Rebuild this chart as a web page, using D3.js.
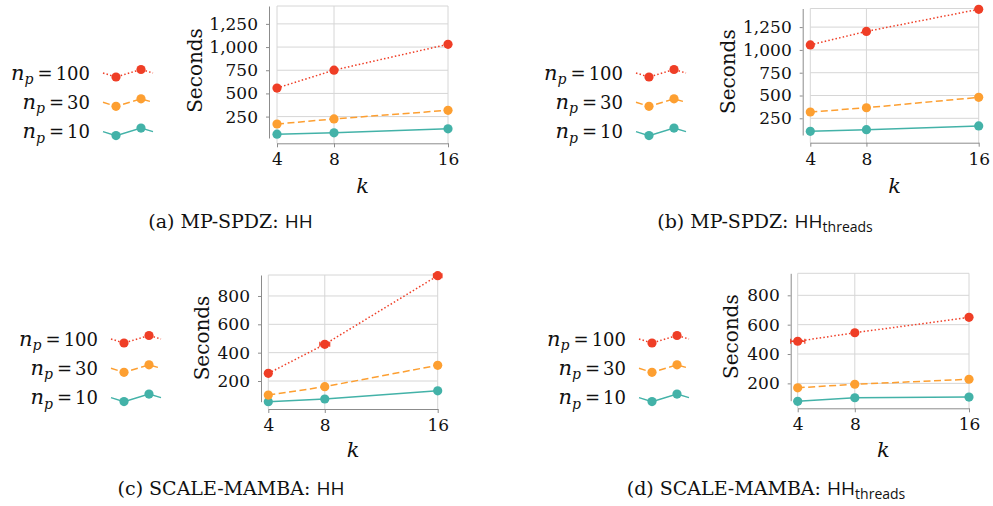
<!DOCTYPE html>
<html>
<head>
<meta charset="utf-8">
<script src="https://cdn.jsdelivr.net/npm/d3@7"></script>
<style>
  body { margin: 0; background: #fff; }
  svg { display: block; }
  text { font-family: "DejaVu Serif", serif; fill: #111; white-space: pre; }
  .sans { font-family: "Open Sans", "DejaVu Sans", sans-serif; }
</style>
</head>
<body>
<div id="chart"></div>
<script>
// k on the x axis
const kValues = [4, 8, 16];
const npLabels = ["100", "30", "10"];

// (a) MP-SPDZ: HH
const mpHH100 = [558, 751, 1030];
const mpHH30 = [170, 225, 318];
const mpHH10 = [60, 75, 118];
// (b) MP-SPDZ: HH_threads
const mpThr100 = [1055, 1203, 1445];
const mpThr30 = [319, 366, 480];
const mpThr10 = [107, 125, 166];
// (c) SCALE-MAMBA: HH
const smHH100 = [254, 459, 943];
const smHH30 = [101, 160, 311];
const smHH10 = [54, 73, 131];
// (d) SCALE-MAMBA: HH_threads
const smThr100 = [487, 545, 650];
const smThr30 = [170, 194, 228];
const smThr10 = [78, 102, 107];

// small horizontal whiskers on the n_p=100 series (k units)
const smHH100Err = [0, 0.35, 0.3];
const smThr100Err = [0.5, 0, 0];

const mpTicks = [250, 500, 750, 1000, 1250];
const smTicks = [200, 400, 600, 800];

const colors = ["#ef3e26", "#fd9f31", "#43b2a8"];
const dashes = ["1.5 2.2", "7 3.5", null];

const width = 993, height = 506;

const svg = d3.select("#chart")
  .append("svg")
  .attr("width", width)
  .attr("height", height)
  .attr("viewBox", [0, 0, width, height]);

const panels = [
  {xr: [277, 448], yr: [138, 6], yDom: [19, 1443], axisX: 269, xAxisY: 143.3,
   ticks: mpTicks, series: [mpHH100, mpHH30, mpHH10], err: null,
   labelX: 201.7, labelY: 70.5, kY: 193, legX: 90, legY: 73,
   cap: {x: 230.5, y: 228, pre: "(a) MP-SPDZ: ", sub: false}},
  {xr: [810.3, 978.7], yr: [135, 8.5], yDom: [67, 1454], axisX: 802.7, xAxisY: 142.7,
   ticks: mpTicks, series: [mpThr100, mpThr30, mpThr10], err: null,
   labelX: 735, labelY: 71.7, kY: 193.3, legX: 623, legY: 73,
   cap: {x: 765, y: 228, pre: "(b) MP-SPDZ: ", sub: true}},
  {xr: [268.3, 437.7], yr: [401.7, 275], yDom: [54, 948], axisX: 261, xAxisY: 409,
   ticks: smTicks, series: [smHH100, smHH30, smHH10], err: smHH100Err,
   labelX: 209, labelY: 338, kY: 456.7, legX: 98, legY: 339,
   cap: {x: 231, y: 495, pre: "(c) SCALE-MAMBA: ", sub: false}},
  {xr: [797.7, 969], yr: [400.7, 273.3], yDom: [82, 950], axisX: 790.7, xAxisY: 408.3,
   ticks: smTicks, series: [smThr100, smThr30, smThr10], err: smThr100Err,
   labelX: 738, labelY: 336.7, kY: 456.7, legX: 626, legY: 339,
   cap: {x: 766, y: 495, pre: "(d) SCALE-MAMBA: ", sub: true}}
];

panels.forEach(p => {
  const g = svg.append("g");
  const x = d3.scaleLinear().domain([4, 16]).range(p.xr);
  const y = d3.scaleLinear().domain(p.yDom).range(p.yr);
  const top = p.yr[1];

  // grid
  g.selectAll("line.hgrid")
    .data(p.ticks)
    .join("line")
    .attr("x1", p.xr[0]).attr("x2", p.xr[1])
    .attr("y1", d => y(d)).attr("y2", d => y(d))
    .attr("stroke", "#d6d6d6").attr("stroke-width", 1);
  g.append("line")
    .attr("x1", p.xr[0]).attr("x2", p.xr[1])
    .attr("y1", top).attr("y2", top)
    .attr("stroke", "#d6d6d6");
  g.selectAll("line.vgrid")
    .data(kValues)
    .join("line")
    .attr("x1", d => x(d)).attr("x2", d => x(d))
    .attr("y1", top).attr("y2", p.xAxisY)
    .attr("stroke", "#d6d6d6");

  // axes
  const yAxis = g.append("g")
    .attr("transform", `translate(${p.axisX},0)`)
    .call(d3.axisLeft(y).tickValues(p.ticks).tickFormat(d3.format(","))
      .tickSize(3).tickSizeOuter(0).tickPadding(8));
  const xAxis = g.append("g")
    .attr("transform", `translate(0,${p.xAxisY})`)
    .call(d3.axisBottom(x).tickValues(kValues).tickSize(4).tickSizeOuter(0).tickPadding(6));
  [yAxis, xAxis].forEach(a => {
    a.select(".domain").attr("stroke", "#8c8c8c");
    a.selectAll(".tick line").attr("stroke", "#8c8c8c");
    a.selectAll(".tick text")
      .style("font-family", "DejaVu Serif, serif")
      .style("font-size", "17px")
      .attr("fill", "#111");
  });

  // axis titles
  g.append("text")
    .attr("transform", `translate(${p.labelX},${p.labelY}) rotate(-90)`)
    .attr("text-anchor", "middle")
    .style("font-size", "20px")
    .text("Seconds");
  g.append("text")
    .attr("x", (p.xr[0] + p.xr[1]) / 2).attr("y", p.kY)
    .attr("text-anchor", "middle")
    .style("font-size", "21px").style("font-style", "italic")
    .text("k");

  // series (drawn 10, 30, 100 so red is on top)
  const line = d3.line().x((d, i) => x(kValues[i])).y(d => y(d));
  [2, 1, 0].forEach(si => {
    const vals = p.series[si];
    g.append("path")
      .datum(vals)
      .attr("d", line)
      .attr("fill", "none")
      .attr("stroke", colors[si])
      .attr("stroke-width", 1.5)
      .attr("stroke-dasharray", dashes[si]);
    if (si === 0 && p.err) {
      const eb = vals.map((v, i) => ({k: kValues[i], v: v, e: p.err[i]})).filter(d => d.e > 0);
      g.selectAll("line.err")
        .data(eb)
        .join("line")
        .attr("x1", d => Math.max(x(d.k - d.e), p.axisX)).attr("x2", d => x(d.k + d.e))
        .attr("y1", d => y(d.v)).attr("y2", d => y(d.v))
        .attr("stroke", colors[0]).attr("stroke-width", 1.6);
      g.selectAll("line.cap")
        .data(eb.flatMap(d => [{k: d.k + d.e, v: d.v}, {k: Math.max(d.k - d.e, x.invert(p.axisX)), v: d.v}]))
        .join("line")
        .attr("x1", d => x(d.k)).attr("x2", d => x(d.k))
        .attr("y1", d => y(d.v) - 2.5).attr("y2", d => y(d.v) + 2.5)
        .attr("stroke", colors[0]).attr("stroke-width", 1.2);
    }
    g.selectAll(null)
      .data(vals)
      .join("circle")
      .attr("cx", (d, i) => x(kValues[i]))
      .attr("cy", d => y(d))
      .attr("r", 4.6)
      .attr("fill", colors[si]);
  });

  // legend
  npLabels.forEach((lab, i) => {
    const cy = p.legY + i * 29.3;
    const t = g.append("text")
      .attr("x", p.legX).attr("y", cy + 6.5)
      .attr("text-anchor", "end")
      .style("font-size", "18px");
    t.append("tspan").style("font-style", "italic").style("font-size", "21px").text("n");
    t.append("tspan").style("font-style", "italic").style("font-size", "14px")
      .attr("dy", 4.5).text("p");
    t.append("tspan").attr("dy", -4.5).attr("dx", 4).text("=");
    t.append("tspan").attr("dx", 3).text(lab);
    const pts = [[p.legX + 13, cy], [p.legX + 26, cy + 4], [p.legX + 51, cy - 3.5], [p.legX + 63, cy]];
    g.append("path")
      .attr("d", d3.line()(pts))
      .attr("fill", "none")
      .attr("stroke", colors[i])
      .attr("stroke-width", 1.5)
      .attr("stroke-dasharray", dashes[i]);
    g.selectAll(null)
      .data(pts.slice(1, 3))
      .join("circle")
      .attr("cx", d => d[0]).attr("cy", d => d[1])
      .attr("r", 4.6).attr("fill", colors[i]);
  });

  // caption
  const c = g.append("text")
    .attr("x", p.cap.x).attr("y", p.cap.y)
    .attr("text-anchor", "middle")
    .style("font-size", "19px");
  c.append("tspan").text(p.cap.pre);
  c.append("tspan").attr("class", "sans").text("HH");
  if (p.cap.sub) {
    c.append("tspan").attr("class", "sans").style("font-size", "14px")
      .attr("dy", 4).text("threads");
  }
});
</script>
</body>
</html>
